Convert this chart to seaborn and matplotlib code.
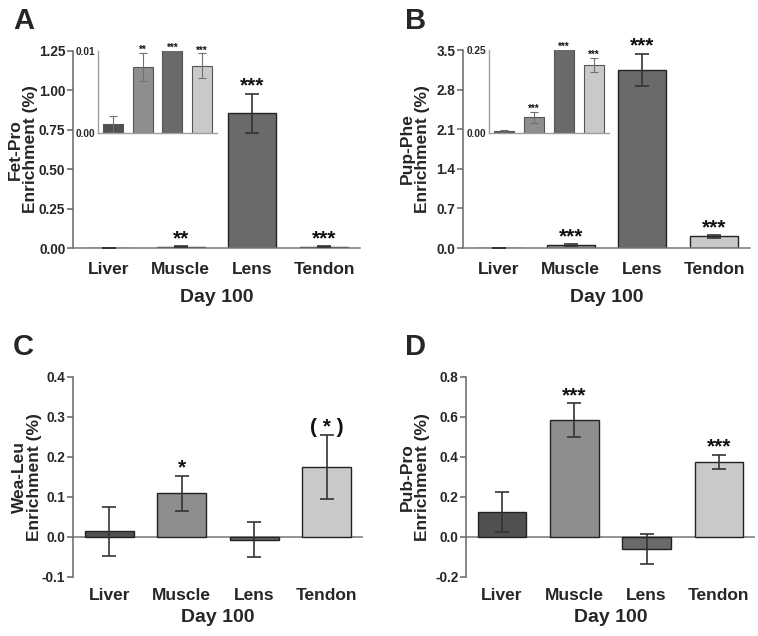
import numpy as np
import seaborn as sns
import matplotlib.pyplot as plt
import matplotlib.transforms as mtransforms
from matplotlib.ticker import FormatStrFormatter

tissues = ['Liver', 'Muscle', 'Lens', 'Tendon']
bar_colors = ['#505050', '#8d8d91', '#6a6a6a', '#c9c9c9']

# A: Fet-Pro enrichment, day 100
fet_pro = [0.0011, 0.0081, 0.855, 0.0082]
fet_pro_sem = [0.0010, 0.0017, 0.125, 0.0015]
fet_pro_sig = ['', '**', '***', '***']

# B: Pup-Phe enrichment
pup_phe = [0.005, 0.047, 3.146, 0.205]
pup_phe_sem = [0.003, 0.016, 0.285, 0.022]
pup_phe_sig = ['', '***', '***', '***']

# C: Wea-Leu enrichment
wea_leu = [0.014, 0.109, -0.007, 0.175]
wea_leu_sem = [0.062, 0.044, 0.044, 0.080]
wea_leu_sig = ['', '*', '', '( * )']

# D: Pub-Pro enrichment
pub_pro = [0.127, 0.585, -0.062, 0.375]
pub_pro_sem = [0.100, 0.083, 0.075, 0.036]
pub_pro_sig = ['', '***', '', '***']

sns.set_theme(style='white')
plt.rcParams['font.family'] = ['Liberation Sans', 'DejaVu Sans']
plt.rcParams['font.weight'] = 'bold'
plt.rcParams['axes.labelweight'] = 'bold'

W, H = 758, 636
fig = plt.figure(figsize=(W / 100, H / 100), dpi=100)


def px_axes(l, t, r, b):
    return fig.add_axes([l / W, 1 - b / H, (r - l) / W, (b - t) / H])


def bars(ax, vals, sems, sig, ylim, edge='#222222', ecol='#333333', lw=1.0,
         elw=1.2, cap=4.7, fs=15, off=1.5):
    sns.barplot(x=tissues, y=vals, hue=tissues, palette=bar_colors, legend=False,
                width=0.67, edgecolor=edge, linewidth=lw, errorbar=None, ax=ax)
    pos = np.arange(len(tissues))
    ax.errorbar(pos, vals, yerr=sems, fmt='none', ecolor=ecol, elinewidth=elw,
                capsize=cap, capthick=elw, zorder=5)
    ax.set_xlim(-0.5, 3.5)
    ax.set_ylim(*ylim)
    for i, s in enumerate(sig):
        if s:
            top = min(vals[i] + sems[i], ylim[1])
            ax.annotate(s, (i, top), xytext=(0, off), textcoords='offset points',
                        ha='center', va='baseline', fontsize=fs,
                        fontweight='bold', color='#111111')


def style_main(ax, yticks, fmt, ylabel, label_right, zero_line, xpad, lpad):
    ax.set_yticks(yticks)
    ax.yaxis.set_major_formatter(FormatStrFormatter(fmt))
    for sp in ['top', 'right']:
        ax.spines[sp].set_visible(False)
    ax.spines['left'].set_color('#666666')
    ax.spines['left'].set_linewidth(1.1)
    if zero_line:
        ax.spines['bottom'].set_visible(False)
        ax.axhline(0, color='#777777', lw=1.1, zorder=0.5)
    else:
        ax.spines['bottom'].set_color('#777777')
        ax.spines['bottom'].set_linewidth(1.1)
    ax.tick_params(axis='y', length=4.5, width=1.1, color='#666666', pad=1,
                   labelsize=9.8, left=True)
    ax.tick_params(axis='x', length=0, pad=xpad, labelsize=12.5)
    for t in ax.get_xticklabels() + ax.get_yticklabels():
        t.set_fontweight('bold')
    ax.set_xlabel('Day 100', fontsize=14, fontweight='bold', labelpad=lpad)
    ax.set_ylabel(ylabel, fontsize=12.5, fontweight='bold', linespacing=1.0)
    tr = mtransforms.blended_transform_factory(fig.transFigure, ax.transAxes)
    ax.yaxis.set_label_coords(label_right / W, 0.5, transform=tr)


def style_inset(ax, yticks):
    ax.set_yticks(yticks)
    ax.yaxis.set_major_formatter(FormatStrFormatter('%.2f'))
    ax.set_xticks([])
    ax.set_xlabel('')
    ax.set_ylabel('')
    ax.patch.set_alpha(0)
    for sp in ['top', 'right']:
        ax.spines[sp].set_visible(False)
    for sp in ['left', 'bottom']:
        ax.spines[sp].set_color('#a0a0a0')
        ax.spines[sp].set_linewidth(1.0)
    ax.tick_params(axis='y', length=0, pad=2, labelsize=7.2, left=False)
    for t in ax.get_yticklabels():
        t.set_fontweight('bold')


# panel A
axA = px_axes(73, 51, 360, 248)
bars(axA, fet_pro, fet_pro_sem, fet_pro_sig, (0, 1.25))
style_main(axA, np.arange(0, 1.26, 0.25), '%.2f', 'Fet-Pro\nEnrichment (%)',
           38, False, 10, 9)
insA = px_axes(98, 51, 217, 133)
bars(insA, fet_pro, fet_pro_sem, fet_pro_sig, (0, 0.01), edge='#555555',
     ecol='#707070', lw=0.8, elw=0.8, cap=3, fs=7, off=0)
style_inset(insA, [0, 0.01])

# panel B
axB = px_axes(463, 50, 750, 248)
bars(axB, pup_phe, pup_phe_sem, pup_phe_sig, (0, 3.5))
style_main(axB, np.arange(0, 3.51, 0.7), '%.1f', 'Pup-Phe\nEnrichment (%)',
           430, False, 10, 9)
insB = px_axes(489, 50, 609, 133)
bars(insB, pup_phe, pup_phe_sem, pup_phe_sig, (0, 0.25), edge='#555555',
     ecol='#707070', lw=0.8, elw=0.8, cap=3, fs=7, off=0)
style_inset(insB, [0, 0.25])

# panel C
axC = px_axes(73, 377, 363, 577)
bars(axC, wea_leu, wea_leu_sem, wea_leu_sig, (-0.1, 0.4))
style_main(axC, np.arange(-0.1, 0.41, 0.1), '%.1f', 'Wea-Leu\nEnrichment (%)',
           42, True, 8, 4)

# panel D
axD = px_axes(466, 377, 755, 577)
bars(axD, pub_pro, pub_pro_sem, pub_pro_sig, (-0.2, 0.8))
style_main(axD, np.arange(-0.2, 0.81, 0.2), '%.1f', 'Pub-Pro\nEnrichment (%)',
           430, True, 8, 4)

for letter, x, y in [('A', 13, 7), ('B', 405, 7), ('C', 13, 333), ('D', 405, 333)]:
    fig.text(x / W, 1 - y / H, letter, fontsize=21, fontweight='bold',
             va='top', ha='left')

fig.savefig('out.png', dpi=100)
